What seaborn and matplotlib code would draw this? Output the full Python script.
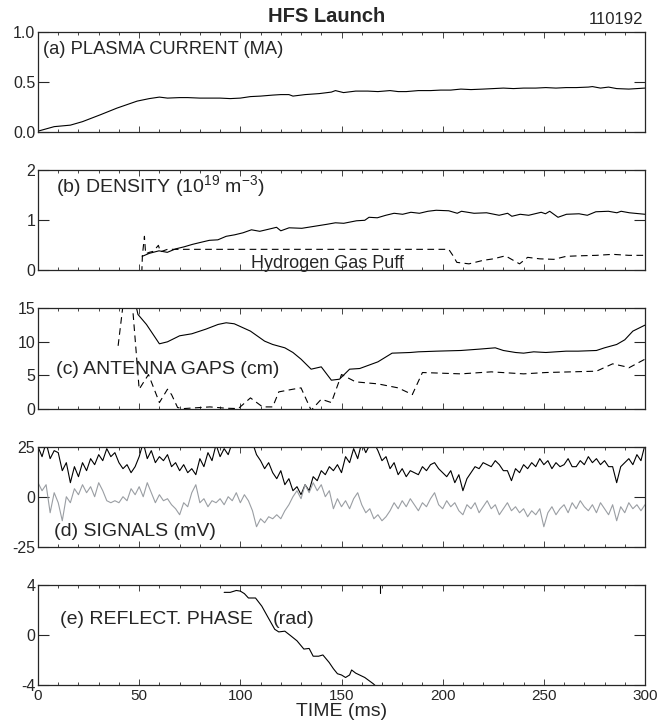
"""HFS launch shot 110192: five stacked time traces."""
import matplotlib
matplotlib.use("Agg")
import matplotlib.pyplot as plt
from matplotlib.ticker import MultipleLocator
import numpy as np
import seaborn as sns

# (a) plasma current (MA)
ip_t = [0, 8, 16, 22, 31, 39, 49, 55, 60, 64, 70, 74, 80, 85, 90, 95, 100, 105,
        110, 116, 120, 124, 126, 132, 139, 145, 147, 151, 157, 163, 168, 174, 178,
        182, 188, 194, 199, 204, 209, 214, 220, 225, 230, 235, 240, 246, 251, 256,
        261, 266, 272, 274, 278, 282, 286, 292, 296, 300]
ip_ma = [0.01, 0.055, 0.07, 0.105, 0.175, 0.24, 0.31, 0.335, 0.35, 0.34, 0.345,
         0.345, 0.34, 0.34, 0.34, 0.335, 0.34, 0.355, 0.36, 0.37, 0.375, 0.375,
         0.36, 0.375, 0.385, 0.40, 0.415, 0.395, 0.41, 0.41, 0.405, 0.415, 0.405,
         0.405, 0.415, 0.415, 0.42, 0.42, 0.43, 0.425, 0.43, 0.435, 0.44, 0.435,
         0.44, 0.44, 0.445, 0.44, 0.445, 0.445, 0.45, 0.455, 0.44, 0.45, 0.435,
         0.43, 0.435, 0.44]

# (b) density (1e19 m^-3) and hydrogen gas puff
ne_t = [51.5, 55, 59.8, 63.9, 68.1, 72.2, 76.4, 80.5, 84.7, 88.9, 93, 97.2, 101.3,
        105.5, 109.6, 113.8, 117.9, 120, 124.1, 130.4, 136.6, 142.8, 147, 151.1,
        157.4, 161.5, 163.6, 167.7, 171.9, 176, 180.2, 184.3, 188.5, 192.7, 196.8,
        203, 207.2, 209.3, 215.5, 221.7, 227.9, 232.1, 234.2, 238.3, 242.5, 248.7,
        250.8, 252.9, 257, 261.2, 267.4, 271.5, 275.7, 281.9, 286.1, 288.2, 292.3,
        300]
ne = [0.28, 0.34, 0.39, 0.36, 0.43, 0.47, 0.52, 0.56, 0.60, 0.61, 0.68, 0.71, 0.75,
      0.81, 0.78, 0.82, 0.86, 0.79, 0.85, 0.84, 0.88, 0.92, 0.95, 0.94, 0.99, 1.0,
      1.06, 1.05, 1.10, 1.14, 1.12, 1.16, 1.14, 1.18, 1.20, 1.19, 1.14, 1.18, 1.14,
      1.15, 1.10, 1.14, 1.08, 1.12, 1.10, 1.16, 1.13, 1.18, 1.06, 1.12, 1.13, 1.10,
      1.17, 1.18, 1.15, 1.18, 1.15, 1.12]
puff_t = [51.3, 51.6, 52.6, 53.2, 55, 57, 59.5, 60.5, 64, 203, 205, 207, 213, 220,
          225, 231, 238, 242, 248, 255, 261, 267, 276, 284, 292, 300]
puff = [-0.05, 0.3, 0.68, 0.33, 0.36, 0.38, 0.5, 0.37, 0.42, 0.42, 0.3, 0.16, 0.13,
        0.2, 0.23, 0.29, 0.13, 0.26, 0.23, 0.22, 0.28, 0.29, 0.3, 0.32, 0.3, 0.3]

# (c) antenna gaps (cm)
gap1_t = [48, 49.4, 53.6, 60, 64, 70, 76, 83, 89, 93, 97, 105, 112, 116, 122, 126,
          130, 135, 140, 145, 149, 154, 159, 168, 175, 184, 188, 197, 209, 218, 226,
          230, 236, 240, 245, 251, 261, 267, 276, 280, 286, 290, 294, 300]
gap1 = [16, 14.1, 12.6, 9.7, 10.0, 10.9, 11.2, 11.9, 12.6, 12.85, 12.7, 11.6, 10.1,
        9.6, 9.1, 8.4, 7.4, 5.9, 6.25, 4.25, 4.4, 5.9, 6.0, 7.0, 8.3, 8.4, 8.5, 8.6,
        8.7, 8.9, 9.1, 8.7, 8.4, 8.3, 8.5, 8.4, 8.6, 8.6, 8.7, 9.1, 9.6, 10.3, 11.6,
        12.5]
gap2_t = [39.6, 43, 46, 50, 54.6, 60, 64, 66, 69, 72, 85, 93, 99, 105, 111, 116,
          119, 126, 130, 135, 140, 145, 150, 157, 168, 178, 185, 190, 209, 224, 240,
          251, 276, 284, 290, 292, 300]
gap2 = [9.4, 18, 18, 2.9, 5.1, 0.9, 2.9, 2.1, 0.15, 0.0, 0.25, 0.05, 0.0, 1.6, 0.25,
        0.25, 2.5, 2.9, 3.1, -0.25, 1.4, 0.9, 5.1, 4.0, 3.7, 3.1, 2.1, 5.4, 5.2, 5.5,
        5.2, 5.4, 5.6, 6.7, 6.3, 6.1, 7.4]

# (d) signals (mV), 2 ms sampling
sig_t = np.arange(0, 301, 2)
sig_black = [25, 20, 27, 19, 23, 22, 13, 17, 7, 15, 10, 17, 13, 19, 16, 21, 18, 24,
             20, 22, 17, 14, 16, 12, 15, 20, 27, 19, 23, 17, 20, 18, 21, 15, 17, 13,
             16, 12, 14, 11, 19, 15, 22, 18, 26, 20, 24, 21, 27, 28, 28, 28, 28, 27,
             21, 18, 14, 17, 12, 9, 13, 6, 9, 3, 5, 1, 6, 3, 10, 8, 13, 11, 15, 13,
             16, 12, 20, 17, 24, 19, 27, 22, 26, 27, 23, 18, 20, 14, 17, 11, 14, 10,
             13, 12, 11, 15, 13, 16, 17, 14, 12, 10, 13, 7, 11, 3, 9, 12, 15, 14, 17,
             16, 15, 18, 16, 13, 13, 8, 14, 12, 16, 14, 17, 15, 19, 16, 18, 14, 17,
             15, 16, 19, 15, 15, 18, 16, 20, 17, 19, 16, 18, 15, 15, 7, 15, 17, 19,
             16, 21, 18, 26]
sig_grey = [7, 3, 6, -8, 2, -3, -12, 0, -3, 4, 1, 6, 2, 5, 0, 7, 3, -2, -3, -2, -3,
            0, -2, 4, 1, 5, 0, 7, 2, -3, 1, -2, -1, -4, -6, -9, -3, -5, 2, 6, -3, -1,
            -5, -2, -3, -1, -4, 0, -2, 2, -3, 1, -2, -7, -15, -11, -13, -10, -11, -9,
            -11, -7, -4, 0, 3, -1, 6, 2, 7, 3, 6, 0, 3, -6, -1, -5, -2, -6, -1, 2, -4,
            -8, -6, -11, -9, -12, -10, -7, -3, -6, -2, -5, -1, -4, -7, -3, -5, -1, 2,
            -4, -6, -2, -5, -3, -7, -9, -4, -6, -3, -8, -5, -2, -6, -4, -9, -6, -3,
            -7, -5, -8, -6, -10, -7, -9, -6, -15, -8, -5, -9, -6, -4, -8, -3, -6, -2,
            -5, -7, -4, -8, -3, -6, -9, -4, -12, -5, -8, -3, -6, -4, -7, -4]

# (e) reflectometer phase (rad)
ph_t = [92, 95, 98, 100, 102, 104, 107.5, 110.6, 113.8, 117, 119, 122, 125, 128,
        131.4, 134, 136, 138.7, 140.8, 143.9, 146, 148, 150, 152, 154, 155, 157,
        161.5, 165.7, 166.7]
ph = [3.4, 3.4, 3.55, 3.5, 3.3, 2.95, 2.95, 2.3, 1.37, 0.45, 0.24, 0.3, -0.08,
      -0.47, -1.13, -1.08, -1.7, -1.7, -1.6, -2.2, -2.7, -3.1, -3.2, -3.4, -3.2,
      -2.8, -3.05, -3.4, -3.9, -4.05]
wrap_t = [168.8, 168.8]
wrap_ph = [4.3, 3.35]

labels = ["(a) PLASMA CURRENT (MA)", "(b) DENSITY (10$^{19}$ m$^{-3}$)",
          "(c) ANTENNA GAPS (cm)", "(d) SIGNALS (mV)", "(e) REFLECT. PHASE"]

sns.set_style("ticks")
plt.rcParams["font.family"] = ["Liberation Sans", "DejaVu Sans"]
plt.rcParams["mathtext.default"] = "regular"
plt.rcParams["axes.unicode_minus"] = False

fig, axes = plt.subplots(5, 1, figsize=(6.58, 7.28), dpi=100)
fig.subplots_adjust(left=38 / 658, right=645 / 658, top=1 - 32 / 728,
                    bottom=1 - 685 / 728, hspace=0.38)

lw = 0.8
dash = (0, (6, 4))

ax = axes[0]
sns.lineplot(x=ip_t, y=ip_ma, ax=ax, color="black", lw=lw)
ax.set_ylim(0, 1)
ax.set_yticks([0, 0.5, 1.0])
ax.set_yticklabels(["0.0", "0.5", "1.0"])

ax = axes[1]
sns.lineplot(x=ne_t, y=ne, ax=ax, color="black", lw=lw)
sns.lineplot(x=puff_t, y=puff, ax=ax, color="black", lw=lw, linestyle=dash)
ax.text(143, 0.13, "Hydrogen Gas Puff", ha="center", va="center", fontsize=13)
ax.set_ylim(0, 2)
ax.set_yticks([0, 1, 2])

ax = axes[2]
sns.lineplot(x=gap1_t, y=gap1, ax=ax, color="black", lw=lw)
sns.lineplot(x=gap2_t, y=gap2, ax=ax, color="black", lw=lw, linestyle=dash)
ax.set_ylim(0, 15)
ax.set_yticks([0, 5, 10, 15])

ax = axes[3]
sns.lineplot(x=sig_t, y=sig_black, ax=ax, color="black", lw=lw)
sns.lineplot(x=sig_t, y=sig_grey, ax=ax, color="#9a9ea3", lw=lw)
ax.set_ylim(-25, 25)
ax.set_yticks([-25, 0, 25])

ax = axes[4]
sns.lineplot(x=ph_t, y=ph, ax=ax, color="black", lw=lw)
# phase wrap: vertical stub, so no aggregation over the repeated time
sns.lineplot(x=wrap_t, y=wrap_ph, ax=ax, color="black", lw=lw, estimator=None)
ax.text(116, 1.23, "(rad)", ha="left", va="center", fontsize=14)
ax.set_ylim(-4, 4)
ax.set_yticks([-4, 0, 4])

label_pos = [(2.7, 0.83), (9, 1.69), (9, 5.8), (8, -17.3), (11, 1.23)]
label_size = [13.2, 14, 14, 14, 14]
for ax, lab, (lx, ly), fs in zip(axes, labels, label_pos, label_size):
    ax.text(lx, ly, lab, ha="left", va="center", fontsize=fs)
    ax.set_xlim(0, 300)
    ax.xaxis.set_major_locator(MultipleLocator(50))
    ax.xaxis.set_minor_locator(MultipleLocator(10))
    ax.tick_params(axis="y", which="major", direction="in", length=8, width=0.8,
                   left=True, right=True, labelsize=11.5, pad=2)
    ax.tick_params(axis="x", which="major", direction="in", length=4, width=0.6,
                   top=True, bottom=True, labelsize=11, pad=3)
    ax.tick_params(axis="x", which="minor", direction="in", length=2.5, width=0.6,
                   top=True, bottom=True)
    for s in ax.spines.values():
        s.set_linewidth(0.9)
    ax.set_xlabel("")
    ax.set_ylabel("")
    if ax is not axes[-1]:
        ax.set_xticklabels([])

axes[-1].set_xlabel("TIME (ms)", fontsize=14, labelpad=0)

fig.text(0.497, 1 - 17 / 728, "HFS Launch", ha="center", va="center",
         fontsize=14.5, fontweight="bold")
fig.text(643 / 658, 1 - 19 / 728, "110192", ha="right", va="center", fontsize=12)

fig.savefig("out.png", dpi=100)
